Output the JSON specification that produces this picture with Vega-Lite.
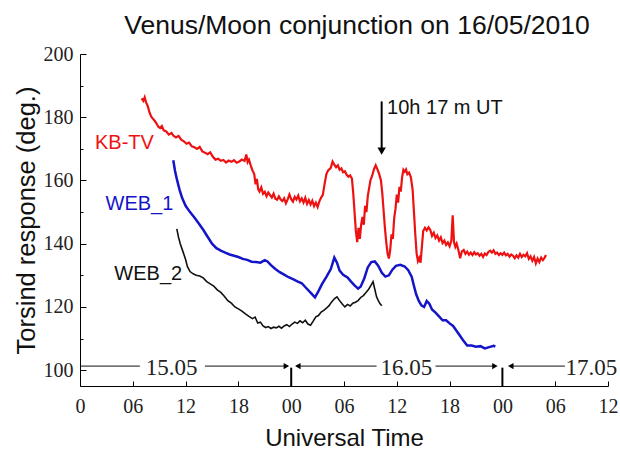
{
  "$schema": "https://vega.github.io/schema/vega-lite/v6.json",
  "autosize": {"type": "none"},
  "padding": {"left": 80, "top": 54, "right": 12, "bottom": 65},
  "width": 528,
  "height": 332,
  "background": "white",
  "config": {"view": {"stroke": null}},
  "title": {"text": "Venus/Moon conjunction on 16/05/2010", "font": "Liberation Sans", "fontSize": 26.5, "fontWeight": "normal", "color": "#111", "anchor": "middle", "dx": 13, "offset": 5},
  "datasets": {
    "kbtv": [
      {"h":7.0,"v":186.0},{"h":7.2,"v":185.2},{"h":7.35,"v":186.3},{"h":7.5,"v":184.8},{"h":7.7,"v":183.5},{"h":7.9,"v":181.5},{"h":8.1,"v":180.2},{"h":8.3,"v":179.5},{"h":8.5,"v":178.8},{"h":8.7,"v":178.0},{"h":8.9,"v":177.0},{"h":9.1,"v":176.6},{"h":9.3,"v":177.2},{"h":9.5,"v":175.9},{"h":9.8,"v":175.5},{"h":10.1,"v":174.5},{"h":10.4,"v":175.0},{"h":10.6,"v":174.2},{"h":10.9,"v":173.6},{"h":11.2,"v":174.1},{"h":11.5,"v":172.9},{"h":11.8,"v":172.4},{"h":12.1,"v":171.6},{"h":12.4,"v":172.0},{"h":12.7,"v":170.8},{"h":13.0,"v":170.5},{"h":13.3,"v":170.0},{"h":13.6,"v":170.6},{"h":13.9,"v":169.2},{"h":14.2,"v":168.8},{"h":14.5,"v":168.3},{"h":14.8,"v":168.9},{"h":15.1,"v":167.5},{"h":15.4,"v":166.6},{"h":15.7,"v":166.9},{"h":16.0,"v":166.2},{"h":16.3,"v":166.5},{"h":16.6,"v":165.7},{"h":16.9,"v":166.3},{"h":17.2,"v":165.9},{"h":17.5,"v":166.4},{"h":17.8,"v":165.6},{"h":18.1,"v":166.0},{"h":18.4,"v":166.6},{"h":18.7,"v":166.2},{"h":18.9,"v":168.2},{"h":19.05,"v":165.8},{"h":19.2,"v":166.6},{"h":19.4,"v":164.8},{"h":19.6,"v":163.2},{"h":19.8,"v":162.0},{"h":19.95,"v":158.8},{"h":20.1,"v":160.5},{"h":20.25,"v":157.2},{"h":20.4,"v":156.5},{"h":20.6,"v":157.8},{"h":20.8,"v":155.8},{"h":21.0,"v":156.4},{"h":21.2,"v":155.0},{"h":21.4,"v":156.2},{"h":21.6,"v":155.4},{"h":21.8,"v":154.6},{"h":22.0,"v":155.8},{"h":22.2,"v":154.2},{"h":22.4,"v":153.9},{"h":22.6,"v":155.0},{"h":22.8,"v":154.0},{"h":23.0,"v":153.5},{"h":23.2,"v":154.4},{"h":23.4,"v":152.8},{"h":23.6,"v":154.0},{"h":23.8,"v":155.6},{"h":24.0,"v":154.1},{"h":24.2,"v":153.3},{"h":24.4,"v":154.8},{"h":24.6,"v":154.0},{"h":24.8,"v":155.2},{"h":25.0,"v":153.4},{"h":25.2,"v":154.3},{"h":25.4,"v":153.0},{"h":25.6,"v":154.5},{"h":25.8,"v":152.6},{"h":26.0,"v":153.8},{"h":26.2,"v":152.4},{"h":26.4,"v":153.6},{"h":26.6,"v":151.9},{"h":26.8,"v":153.0},{"h":27.0,"v":151.6},{"h":27.2,"v":153.4},{"h":27.4,"v":154.6},{"h":27.6,"v":155.5},{"h":27.8,"v":159.0},{"h":28.0,"v":162.0},{"h":28.2,"v":163.2},{"h":28.5,"v":164.0},{"h":28.7,"v":166.0},{"h":28.9,"v":165.0},{"h":29.1,"v":164.2},{"h":29.3,"v":164.8},{"h":29.5,"v":163.4},{"h":29.7,"v":163.8},{"h":29.9,"v":162.6},{"h":30.1,"v":162.9},{"h":30.3,"v":161.8},{"h":30.5,"v":161.2},{"h":30.7,"v":161.6},{"h":30.9,"v":160.6},{"h":31.05,"v":156.0},{"h":31.2,"v":150.0},{"h":31.35,"v":144.0},{"h":31.5,"v":140.5},{"h":31.65,"v":145.0},{"h":31.8,"v":141.5},{"h":31.95,"v":146.0},{"h":32.1,"v":148.5},{"h":32.25,"v":146.0},{"h":32.4,"v":152.0},{"h":32.55,"v":150.0},{"h":32.7,"v":155.0},{"h":32.85,"v":157.5},{"h":33.0,"v":160.0},{"h":33.2,"v":161.5},{"h":33.4,"v":163.5},{"h":33.6,"v":164.8},{"h":33.8,"v":163.5},{"h":34.0,"v":162.0},{"h":34.2,"v":160.0},{"h":34.35,"v":156.0},{"h":34.5,"v":150.5},{"h":34.65,"v":145.0},{"h":34.8,"v":140.5},{"h":34.95,"v":137.0},{"h":35.1,"v":135.3},{"h":35.25,"v":138.0},{"h":35.4,"v":143.0},{"h":35.55,"v":141.5},{"h":35.7,"v":148.0},{"h":35.85,"v":151.0},{"h":36.0,"v":155.5},{"h":36.15,"v":153.0},{"h":36.3,"v":158.0},{"h":36.45,"v":156.5},{"h":36.6,"v":161.0},{"h":36.75,"v":163.4},{"h":36.9,"v":162.8},{"h":37.05,"v":163.5},{"h":37.2,"v":162.0},{"h":37.4,"v":162.5},{"h":37.6,"v":161.0},{"h":37.8,"v":157.0},{"h":37.95,"v":150.0},{"h":38.1,"v":143.0},{"h":38.25,"v":137.0},{"h":38.4,"v":134.5},{"h":38.55,"v":135.5},{"h":38.7,"v":134.0},{"h":38.85,"v":139.0},{"h":39.0,"v":144.0},{"h":39.2,"v":145.0},{"h":39.4,"v":144.2},{"h":39.6,"v":145.2},{"h":39.8,"v":144.4},{"h":40.0,"v":142.5},{"h":40.2,"v":143.5},{"h":40.4,"v":141.8},{"h":40.6,"v":142.6},{"h":40.8,"v":141.0},{"h":41.0,"v":142.0},{"h":41.2,"v":140.2},{"h":41.4,"v":141.0},{"h":41.6,"v":139.6},{"h":41.8,"v":140.4},{"h":42.0,"v":139.2},{"h":42.2,"v":141.0},{"h":42.35,"v":149.0},{"h":42.5,"v":140.5},{"h":42.65,"v":139.0},{"h":42.8,"v":140.0},{"h":43.0,"v":138.0},{"h":43.2,"v":135.4},{"h":43.4,"v":137.6},{"h":43.6,"v":138.0},{"h":43.8,"v":136.8},{"h":44.0,"v":137.5},{"h":44.2,"v":136.5},{"h":44.4,"v":137.2},{"h":44.6,"v":136.4},{"h":44.8,"v":137.3},{"h":45.0,"v":136.6},{"h":45.2,"v":137.0},{"h":45.4,"v":136.2},{"h":45.6,"v":136.8},{"h":45.8,"v":135.8},{"h":46.0,"v":136.9},{"h":46.2,"v":136.4},{"h":46.4,"v":137.4},{"h":46.6,"v":137.8},{"h":46.8,"v":137.2},{"h":47.0,"v":137.9},{"h":47.2,"v":136.8},{"h":47.4,"v":137.2},{"h":47.6,"v":136.4},{"h":47.8,"v":137.0},{"h":48.0,"v":136.5},{"h":48.2,"v":137.2},{"h":48.4,"v":136.3},{"h":48.6,"v":136.8},{"h":48.8,"v":135.9},{"h":49.0,"v":136.6},{"h":49.2,"v":136.2},{"h":49.4,"v":135.4},{"h":49.6,"v":136.3},{"h":49.8,"v":135.6},{"h":50.0,"v":136.8},{"h":50.2,"v":135.8},{"h":50.4,"v":136.5},{"h":50.6,"v":136.0},{"h":50.8,"v":137.0},{"h":51.0,"v":135.2},{"h":51.2,"v":136.0},{"h":51.4,"v":134.6},{"h":51.6,"v":135.8},{"h":51.8,"v":133.8},{"h":52.0,"v":135.3},{"h":52.2,"v":134.2},{"h":52.4,"v":135.6},{"h":52.6,"v":134.8},{"h":52.8,"v":135.6},{"h":52.95,"v":136.4}
    ],
    "web1": [
      {"h":10.6,"v":166.4},{"h":10.8,"v":163.0},{"h":11.0,"v":160.5},{"h":11.3,"v":157.2},{"h":11.6,"v":154.5},{"h":12.0,"v":152.0},{"h":12.5,"v":150.0},{"h":13.0,"v":148.3},{"h":13.5,"v":146.4},{"h":14.0,"v":144.4},{"h":14.5,"v":142.2},{"h":15.0,"v":140.0},{"h":15.5,"v":138.6},{"h":16.0,"v":137.8},{"h":16.5,"v":137.2},{"h":17.0,"v":136.6},{"h":17.5,"v":136.2},{"h":18.0,"v":135.8},{"h":18.5,"v":135.2},{"h":19.0,"v":134.9},{"h":19.5,"v":134.3},{"h":20.0,"v":134.2},{"h":20.5,"v":134.0},{"h":21.0,"v":134.8},{"h":21.3,"v":134.4},{"h":21.7,"v":133.2},{"h":22.2,"v":132.0},{"h":22.7,"v":131.0},{"h":23.2,"v":130.2},{"h":23.7,"v":129.4},{"h":24.2,"v":128.8},{"h":24.7,"v":128.1},{"h":25.2,"v":127.5},{"h":25.7,"v":126.0},{"h":26.2,"v":124.5},{"h":26.7,"v":123.0},{"h":27.1,"v":125.0},{"h":27.5,"v":127.2},{"h":28.0,"v":129.5},{"h":28.5,"v":132.0},{"h":28.9,"v":135.6},{"h":29.2,"v":134.0},{"h":29.5,"v":131.5},{"h":29.9,"v":130.2},{"h":30.4,"v":129.3},{"h":30.8,"v":128.0},{"h":31.2,"v":126.8},{"h":31.6,"v":125.8},{"h":31.9,"v":126.5},{"h":32.3,"v":129.0},{"h":32.7,"v":132.5},{"h":33.1,"v":134.2},{"h":33.5,"v":134.4},{"h":33.9,"v":133.0},{"h":34.3,"v":130.8},{"h":34.7,"v":129.6},{"h":35.1,"v":130.0},{"h":35.5,"v":131.8},{"h":35.9,"v":133.0},{"h":36.4,"v":133.3},{"h":36.9,"v":132.8},{"h":37.3,"v":131.6},{"h":37.7,"v":129.5},{"h":37.9,"v":127.2},{"h":38.2,"v":124.0},{"h":38.5,"v":121.9},{"h":38.8,"v":120.5},{"h":39.1,"v":120.0},{"h":39.4,"v":121.9},{"h":39.7,"v":121.0},{"h":40.0,"v":119.2},{"h":40.4,"v":118.2},{"h":40.8,"v":117.0},{"h":41.2,"v":115.8},{"h":41.6,"v":115.8},{"h":42.0,"v":114.8},{"h":42.4,"v":114.0},{"h":42.8,"v":112.4},{"h":43.2,"v":110.8},{"h":43.6,"v":109.2},{"h":44.0,"v":107.8},{"h":44.5,"v":107.8},{"h":45.0,"v":107.4},{"h":45.5,"v":107.6},{"h":46.0,"v":106.9},{"h":46.5,"v":107.3},{"h":47.0,"v":107.7},{"h":47.2,"v":107.5}
    ],
    "web2": [
      {"h":11.0,"v":144.7},{"h":11.2,"v":142.0},{"h":11.4,"v":139.9},{"h":11.7,"v":137.5},{"h":12.0,"v":135.0},{"h":12.2,"v":132.8},{"h":12.5,"v":131.2},{"h":12.9,"v":130.4},{"h":13.2,"v":130.0},{"h":13.6,"v":129.8},{"h":14.0,"v":129.2},{"h":14.4,"v":128.0},{"h":14.8,"v":127.3},{"h":15.2,"v":126.6},{"h":15.6,"v":125.4},{"h":16.0,"v":124.6},{"h":16.4,"v":123.4},{"h":16.8,"v":122.0},{"h":17.2,"v":121.2},{"h":17.6,"v":120.0},{"h":18.0,"v":119.4},{"h":18.4,"v":118.7},{"h":18.8,"v":117.8},{"h":19.2,"v":117.0},{"h":19.6,"v":116.3},{"h":19.9,"v":116.8},{"h":20.2,"v":114.9},{"h":20.5,"v":115.2},{"h":20.8,"v":114.0},{"h":21.1,"v":113.5},{"h":21.4,"v":113.8},{"h":21.7,"v":113.2},{"h":22.0,"v":113.6},{"h":22.3,"v":113.4},{"h":22.6,"v":113.9},{"h":22.9,"v":113.3},{"h":23.2,"v":114.0},{"h":23.5,"v":114.4},{"h":23.8,"v":113.8},{"h":24.1,"v":114.6},{"h":24.4,"v":115.2},{"h":24.7,"v":114.8},{"h":25.0,"v":115.6},{"h":25.3,"v":115.0},{"h":25.6,"v":115.8},{"h":25.9,"v":114.6},{"h":26.2,"v":114.2},{"h":26.5,"v":115.5},{"h":26.8,"v":116.9},{"h":27.1,"v":117.3},{"h":27.4,"v":118.4},{"h":27.7,"v":118.9},{"h":28.0,"v":119.6},{"h":28.3,"v":120.4},{"h":28.6,"v":121.6},{"h":28.9,"v":122.6},{"h":29.2,"v":123.2},{"h":29.5,"v":122.0},{"h":29.8,"v":120.9},{"h":30.1,"v":120.0},{"h":30.4,"v":120.8},{"h":30.7,"v":120.3},{"h":31.0,"v":121.2},{"h":31.3,"v":121.5},{"h":31.6,"v":122.0},{"h":31.9,"v":123.0},{"h":32.2,"v":123.6},{"h":32.5,"v":124.6},{"h":32.8,"v":125.6},{"h":33.1,"v":127.0},{"h":33.3,"v":128.0},{"h":33.5,"v":125.6},{"h":33.7,"v":123.2},{"h":33.9,"v":122.0},{"h":34.1,"v":121.0},{"h":34.3,"v":120.4}
    ],
    "hsegs": [
      {"h":0,"h2":6.8,"v":101.3},{"h":14.2,"h2":23.6,"v":101.3},{"h":24.6,"h2":33.7,"v":101.3},{"h":40.4,"h2":47.2,"v":101.3},{"h":48.9,"h2":55.1,"v":101.3}
    ],
    "vsegs": [{"h":24,"v":95,"v2":100.8},{"h":48,"v":95,"v2":100.8}],
    "heads": [
      {"h":23.45,"v":101.3,"dir":"triangle-right"},{"h":24.75,"v":101.3,"dir":"triangle-left"},{"h":47.15,"v":101.3,"dir":"triangle-right"},{"h":48.95,"v":101.3,"dir":"triangle-left"}
    ],
    "days": [{"h":10.4,"v":100.6,"t":"15.05"},{"h":37.1,"v":100.6,"t":"16.05"},{"h":58.1,"v":100.6,"t":"17.05"}],
    "names": [
      {"h":1.7,"v":171.7,"t":"KB-TV","c":"#ee1111"},{"h":2.9,"v":152.7,"t":"WEB_1","c":"#1414c8"},{"h":3.9,"v":130.4,"t":"WEB_2","c":"#111111"}
    ],
    "minor": [{"v":110},{"v":130},{"v":150},{"v":170},{"v":190}]
  },
  "resolve": {"axis": {"y": "independent", "x": "independent"}},
  "layer": [
    {
      "data": {"name": "kbtv"},
      "mark": {"type": "line", "color": "#ee1111", "strokeWidth": 2.2},
      "encoding": {
        "x": {"field": "h", "type": "quantitative", "scale": {"domain": [0, 60], "nice": false, "zero": false},
          "axis": {"values": [0,6,12,18,24,30,36,42,48,54,60], "labelExpr": "datum.value == 0 ? '0' : (datum.value % 24 < 10 ? '0' + (datum.value % 24) : '' + (datum.value % 24))",
            "tickSize": -5, "tickColor": "#000", "domainColor": "#000", "grid": false, "labelFont": "Liberation Serif", "labelFontSize": 20, "labelColor": "#222", "labelPadding": 15, "labelFlush": false,
            "title": "Universal Time", "titleFont": "Liberation Sans", "titleFontSize": 24, "titleFontWeight": "normal", "titleColor": "#111", "titlePadding": 10}},
        "y": {"field": "v", "type": "quantitative", "scale": {"domain": [95, 200], "nice": false, "zero": false},
          "axis": {"values": [100,120,140,160,180,200], "tickSize": -6, "tickColor": "#000", "domainColor": "#000", "grid": false, "labelFont": "Liberation Serif", "labelFontSize": 20, "labelColor": "#222", "labelPadding": 13,
            "title": "Torsind response (deg.)", "titleFont": "Liberation Sans", "titleFontSize": 25.5, "titleFontWeight": "normal", "titleColor": "#111", "titlePadding": 4}}
      }
    },
    {
      "data": {"name": "minor"},
      "mark": {"type": "point", "opacity": 0},
      "encoding": {
        "y": {"field": "v", "type": "quantitative", "axis": {"orient": "left", "values": [110,130,150,170,190], "tickSize": -3, "tickColor": "#000", "domain": false, "labels": false, "title": null, "grid": false}}
      }
    },
    {
      "data": {"name": "web1"},
      "mark": {"type": "line", "color": "#1414c8", "strokeWidth": 2.5},
      "encoding": {"x": {"field": "h", "type": "quantitative", "axis": null}, "y": {"field": "v", "type": "quantitative", "axis": null}}
    },
    {
      "data": {"name": "web2"},
      "mark": {"type": "line", "color": "#111111", "strokeWidth": 1.6},
      "encoding": {"x": {"field": "h", "type": "quantitative", "axis": null}, "y": {"field": "v", "type": "quantitative", "axis": null}}
    },
    {
      "data": {"name": "hsegs"},
      "mark": {"type": "rule", "color": "#111", "strokeWidth": 1},
      "encoding": {"x": {"field": "h", "type": "quantitative", "axis": null}, "x2": {"field": "h2"}, "y": {"field": "v", "type": "quantitative", "axis": null}}
    },
    {
      "data": {"name": "vsegs"},
      "mark": {"type": "rule", "color": "#000", "strokeWidth": 2},
      "encoding": {"x": {"field": "h", "type": "quantitative", "axis": null}, "y": {"field": "v", "type": "quantitative", "axis": null}, "y2": {"field": "v2"}}
    },
    {
      "data": {"name": "heads"},
      "mark": {"type": "point", "filled": true, "color": "#000", "size": 40, "opacity": 1},
      "encoding": {"x": {"field": "h", "type": "quantitative", "axis": null}, "y": {"field": "v", "type": "quantitative", "axis": null},
        "shape": {"field": "dir", "type": "nominal", "scale": null, "legend": null}}
    },
    {
      "data": {"name": "days"},
      "mark": {"type": "text", "font": "Liberation Serif", "fontSize": 23, "color": "#222", "baseline": "middle", "align": "center"},
      "encoding": {"x": {"field": "h", "type": "quantitative", "axis": null}, "y": {"field": "v", "type": "quantitative", "axis": null}, "text": {"field": "t"}}
    },
    {
      "data": {"name": "names"},
      "mark": {"type": "text", "font": "Liberation Sans", "fontSize": 20, "baseline": "middle", "align": "left"},
      "encoding": {"x": {"field": "h", "type": "quantitative", "axis": null}, "y": {"field": "v", "type": "quantitative", "axis": null}, "text": {"field": "t"},
        "color": {"field": "c", "type": "nominal", "scale": null, "legend": null}}
    },
    {
      "data": {"values": [{"h": 34.28, "v": 185.0, "v2": 170.0}]},
      "mark": {"type": "rule", "color": "#000", "strokeWidth": 2},
      "encoding": {"x": {"field": "h", "type": "quantitative", "axis": null}, "y": {"field": "v", "type": "quantitative", "axis": null}, "y2": {"field": "v2"}}
    },
    {
      "data": {"values": [{"h": 34.28, "v": 169.3}]},
      "mark": {"type": "point", "shape": "triangle-down", "filled": true, "color": "#000", "size": 70, "opacity": 1},
      "encoding": {"x": {"field": "h", "type": "quantitative", "axis": null}, "y": {"field": "v", "type": "quantitative", "axis": null}}
    },
    {
      "data": {"values": [{"h": 34.9, "v": 181.0, "t": "10h 17 m UT"}]},
      "mark": {"type": "text", "font": "Liberation Sans", "fontSize": 20, "color": "#111", "baseline": "alphabetic", "align": "left"},
      "encoding": {"x": {"field": "h", "type": "quantitative", "axis": null}, "y": {"field": "v", "type": "quantitative", "axis": null}, "text": {"field": "t"}}
    }
  ]
}
